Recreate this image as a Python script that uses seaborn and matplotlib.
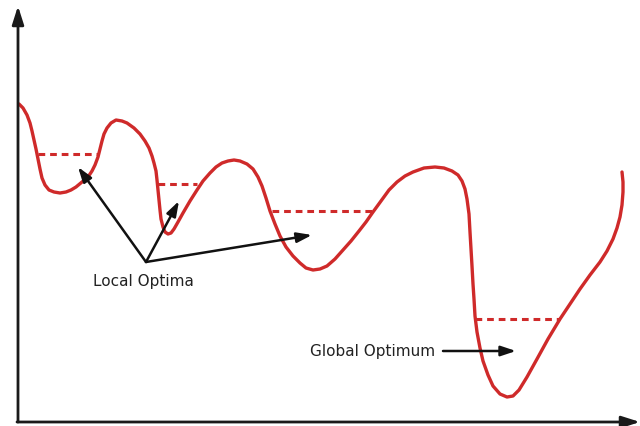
import numpy as np
import pandas as pd
import matplotlib
matplotlib.use("Agg")
import matplotlib.pyplot as plt
import seaborn as sns

# curve (picture units, y grows downward)
curve_pts = [(19, 105), (23, 109), (27, 116), (30, 124), (32, 132), (34, 141), (36, 150),
             (38, 160), (40, 170), (42, 179), (45, 186), (49, 191), (54, 193), (60, 194),
             (66, 193), (71, 191), (76, 188), (82, 183), (88, 178), (92, 172), (95, 166),
             (98, 158), (100, 150), (102, 142), (104, 135), (107, 129), (111, 124), (116, 121),
             (122, 122), (127, 124), (134, 129), (140, 135), (145, 142), (149, 149), (152, 157),
             (154, 164), (156, 172), (157, 181), (158, 191), (159, 201), (160, 211), (161, 220),
             (163, 228), (165, 233), (168, 235), (171, 234), (174, 230), (178, 223), (183, 214),
             (190, 202), (197, 191), (203, 182), (210, 174), (216, 168), (222, 164), (228, 162),
             (234, 161), (240, 162), (247, 165), (253, 170), (258, 178), (262, 187), (266, 199),
             (270, 212), (275, 225), (280, 237), (286, 248), (293, 257), (300, 264), (306, 269),
             (313, 271), (320, 270), (327, 267), (335, 260), (343, 251), (351, 242), (359, 232),
             (366, 223), (373, 213), (381, 202), (389, 191), (397, 183), (405, 177), (413, 173),
             (424, 169), (435, 168), (444, 169), (452, 172), (458, 176), (462, 182), (465, 190),
             (467, 200), (469, 215), (470, 233), (471, 250), (472, 267), (473, 285), (474, 300),
             (475, 317), (477, 333), (480, 349), (483, 362), (488, 376), (493, 387), (500, 395),
             (507, 398), (513, 397), (519, 391), (527, 378), (537, 360), (548, 340), (560, 320),
             (570, 305), (580, 290), (590, 276), (600, 263), (607, 252), (613, 240), (617, 229),
             (620, 218), (622, 206), (623, 193), (623, 183), (622, 173)]
curve_x = [p[0] for p in curve_pts]
curve_y = [p[1] for p in curve_pts]

# dashed levels: y, x start, x end
level_y = [155, 185, 212, 320]
level_x0 = [38, 158, 272, 475]
level_x1 = [99, 197, 373, 560]

# local optima arrows
local_origin = (146, 263)
local_targets = [(78, 168), (179, 202), (312, 236)]
local_label = "Local Optima"
global_label = "Global Optimum"

red = "#cf2a2a"

sns.set_style("white")
plt.rcParams['font.family'] = ['DejaVu Sans']

fig = plt.figure(figsize=(6.4, 4.27), dpi=100)
ax = fig.add_axes([0, 0, 1, 1])

df = pd.DataFrame({"x": curve_x, "y": curve_y})
sns.lineplot(data=df, x="x", y="y", sort=False, estimator=None, color=red, linewidth=2.4,
             ax=ax, solid_joinstyle="round", solid_capstyle="round")

for y, x0, x1 in zip(level_y, level_x0, level_x1):
    ax.plot([x0, x1], [y, y], color=red, linewidth=2.2, linestyle=(0, (2.2, 1.6)))

# axes with arrow heads
ax.annotate("", xy=(18, 7), xytext=(18, 423),
            arrowprops=dict(arrowstyle="-|>,head_length=1.1,head_width=0.35", color="#1a1a1a",
                            lw=2, shrinkA=0, shrinkB=0))
ax.annotate("", xy=(640, 423), xytext=(17, 423),
            arrowprops=dict(arrowstyle="-|>,head_length=1.1,head_width=0.35", color="#1a1a1a",
                            lw=2, shrinkA=0, shrinkB=0))

for t in local_targets:
    ax.annotate("", xy=t, xytext=local_origin,
                arrowprops=dict(arrowstyle="-|>,head_length=0.9,head_width=0.3", color="#111111",
                                lw=1.8, shrinkA=0, shrinkB=0))

ax.text(143, 282, local_label, ha="center", va="center", fontsize=11, color="#222222")
ax.text(373, 352, global_label, ha="center", va="center", fontsize=11, color="#222222")
ax.annotate("", xy=(516, 352), xytext=(443, 352),
            arrowprops=dict(arrowstyle="-|>,head_length=0.9,head_width=0.3", color="#111111",
                            lw=1.8, shrinkA=0, shrinkB=0))

ax.set_xlim(0, 640)
ax.set_ylim(427, 0)
ax.axis("off")

fig.savefig("out.png", dpi=100)
